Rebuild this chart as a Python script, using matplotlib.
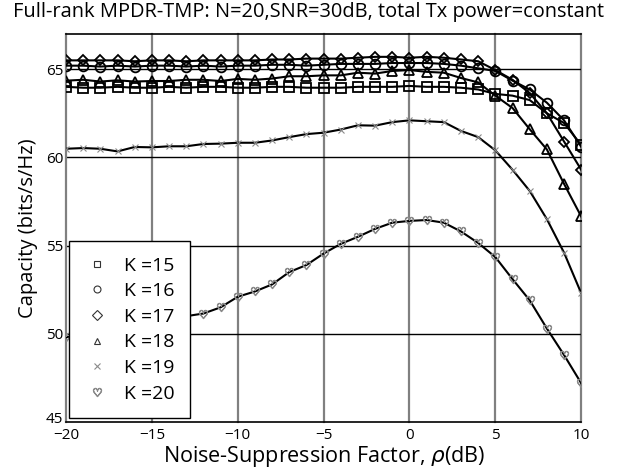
import numpy as np
import matplotlib
matplotlib.use('Agg')
import matplotlib.pyplot as plt
import matplotlib.transforms as mtransforms
from matplotlib.lines import Line2D

plt.rcParams['font.family'] = ['Open Sans', 'DejaVu Sans']
plt.rcParams['mathtext.fontset'] = 'dejavusans'

# noise-suppression factor rho (dB)
rho = list(range(-20, 11))

k15 = [64.0, 63.95, 63.95, 64.0, 63.95, 63.95, 64.0, 63.95, 64.0, 64.0, 63.95,
       63.95, 64.0, 64.0, 63.95, 63.95, 63.95, 64.0, 64.0, 64.0, 64.05, 64.0,
       64.0, 63.95, 63.85, 63.6, 63.5, 63.25, 62.5, 61.95, 60.7]
k16 = [65.2, 65.2, 65.15, 65.2, 65.15, 65.2, 65.2, 65.15, 65.2, 65.15, 65.2,
       65.2, 65.25, 65.25, 65.2, 65.25, 65.3, 65.3, 65.3, 65.35, 65.35, 65.35,
       65.3, 65.2, 65.05, 64.9, 64.35, 63.85, 63.1, 62.1, 60.6]
k17 = [65.5, 65.5, 65.5, 65.5, 65.45, 65.5, 65.5, 65.45, 65.5, 65.5, 65.5,
       65.5, 65.55, 65.55, 65.6, 65.6, 65.6, 65.65, 65.7, 65.7, 65.65, 65.7,
       65.65, 65.55, 65.45, 64.95, 64.4, 63.65, 62.5, 60.9, 59.3]
k18 = [64.35, 64.4, 64.3, 64.37, 64.3, 64.33, 64.33, 64.4, 64.4, 64.33, 64.45,
       64.4, 64.47, 64.6, 64.6, 64.65, 64.65, 64.8, 64.75, 64.9, 64.95, 64.85,
       64.8, 64.5, 64.25, 63.5, 62.8, 61.6, 60.45, 58.5, 56.65]
k19 = [60.49, 60.53, 60.49, 60.34, 60.59, 60.57, 60.63, 60.63, 60.76, 60.78, 60.83,
       60.83, 60.96, 61.15, 61.32, 61.4, 61.58, 61.82, 61.8, 62.0, 62.1, 62.05,
       62.0, 61.5, 61.15, 60.4, 59.3, 58.1, 56.5, 54.6, 52.3]
k20 = [49.8, 50.0, 50.2, 50.4, 50.6, 50.8, 50.9, 51.0, 51.15, 51.5, 52.1,
       52.4, 52.8, 53.5, 53.9, 54.55, 55.1, 55.5, 55.95, 56.3, 56.4, 56.45,
       56.3, 55.8, 55.15, 54.35, 53.1, 51.9, 50.3, 48.8, 47.2]

labels = ['K =15', 'K =16', 'K =17', 'K =18', 'K =19', 'K =20']
series = [k15, k16, k17, k18, k19, k20]
markers = ['s', 'o', 'D', '^', 'x', r'$\heartsuit$']
HEART = r'$\heartsuit$'

fig = plt.figure(figsize=(6.17, 4.71), dpi=100)
ax = fig.add_axes([0.107, 0.104, 0.835, 0.824])

for y, m in zip(series, markers):
    if m in ('x', HEART):
        ax.plot(rho, y, color='black', lw=1.5, marker=m, ms=6 if m != 'x' else 4,
                mfc='none', mec='#8a8a8a', mew=0.8, zorder=3)
    else:
        ax.plot(rho, y, color='black', lw=1.5, marker=m,
                ms=7 if m != 'D' else 5.5, mfc='none', mec='black', mew=1.3, zorder=3)

ax.set_xlim(-20, 10)
ax.set_ylim(45, 67)
ax.set_xticks([-20, -15, -10, -5, 0, 5, 10])
ax.set_yticks([45, 50, 55, 60, 65])
for xv in [-15, -10, -5, 0, 5, 10]:
    ax.axvline(xv, color='#808080', lw=1.6, zorder=1, clip_on=False)
for yv in [50, 55, 60, 65]:
    ax.axhline(yv, color='black', lw=1.0, zorder=1)
ax.tick_params(axis='x', length=0, labelsize=11, pad=4)
ax.tick_params(axis='y', length=0, labelsize=11, pad=2)
ax.spines['right'].set_visible(False)
ax.spines['left'].set_color('#808080')
ax.spines['left'].set_linewidth(1.6)
for s in ['top', 'bottom']:
    ax.spines[s].set_linewidth(1.2)

# lift the "45" label a touch so it clears "-20", like in the original
lbl45 = ax.get_yticklabels()[0]
lbl45.set_transform(lbl45.get_transform() +
                    mtransforms.ScaledTranslation(0, 3 / 72, fig.dpi_scale_trans))

ax.set_xlabel(r'Noise-Suppression Factor, $\rho$(dB)', fontsize=15.5, labelpad=1)
ax.set_ylabel('Capacity (bits/s/Hz)', fontsize=14.5, labelpad=6)
fig.text(0.5, 0.9745, 'Full-rank MPDR-TMP: N=20,SNR=30dB, total Tx power=constant',
         ha='center', va='center', fontsize=14.4)

handles = []
for m, lab in zip(markers, labels):
    handles.append(Line2D([], [], ls='none', marker=m, ms=5 if m != HEART else 6,
                          mfc='none', mec='#333333' if m not in ('x', HEART) else '#8a8a8a',
                          mew=0.8, label=lab))
leg = ax.legend(handles=handles, loc='lower left', bbox_to_anchor=(0.006, 0.01),
                borderaxespad=0, fancybox=False, edgecolor='black', framealpha=1,
                fontsize=14, labelspacing=0.39, handletextpad=0.7, borderpad=0.8,
                handlelength=1.3)
leg.get_frame().set_linewidth(1.0)
leg.set_zorder(5)

fig.savefig('out.png', dpi=100)
